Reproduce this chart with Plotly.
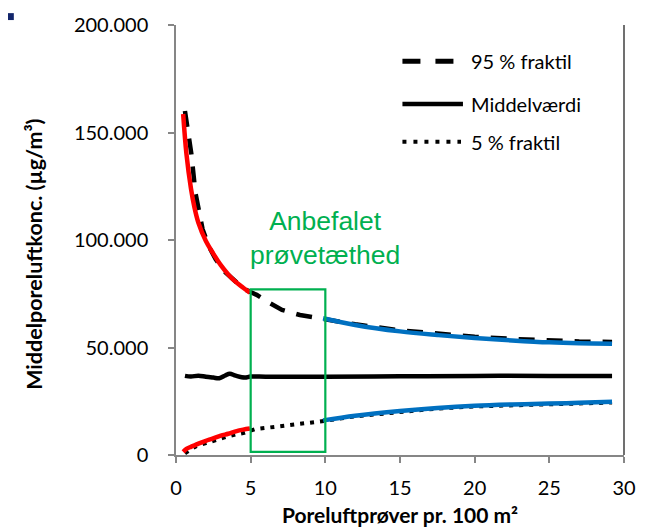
import plotly.graph_objects as go

# --- data -----------------------------------------------------------------
# 95 % fractile (dashed), mean (solid), 5 % fractile (dotted)
x_p95 = [0.6, 0.8, 1.03, 1.3, 1.78, 2.2, 2.66, 3.3, 3.97, 4.5, 4.95, 5.4, 6.13, 7.1, 8.3, 9.5,
         10.0, 12.0, 15.0, 17.5, 20.0, 22.5, 25.0, 27.0, 29.2]
y_p95 = [160000, 150000, 140000, 122000, 105000, 97000, 91000, 85000, 80500, 77500, 75900, 74500,
         71300, 67500, 65100, 63600, 63300, 60800, 58000, 56400, 55000, 54000, 53200, 52800, 52600]

x_mean = [0.6, 1.0, 1.5, 2.0, 2.5, 2.9, 3.3, 3.6, 4.0, 4.6, 5.0, 6.0, 8.0, 10.0, 15.0, 20.0, 25.0, 29.2]
y_mean = [36800, 36500, 36900, 36400, 36000, 35700, 37000, 37800, 36900, 36000, 36500, 36400,
          36400, 36400, 36600, 36800, 36800, 36800]

x_p05 = [0.6, 1.0, 1.35, 2.0, 2.55, 3.2, 4.0, 4.5, 5.3, 5.9, 6.47, 7.5, 8.54, 9.7,
         10.0, 12.0, 15.0, 17.5, 20.0, 22.5, 25.0, 27.0, 29.2]
y_p05 = [800, 2800, 4100, 5500, 6900, 8100, 9600, 10200, 12000, 12500, 13000, 13800, 14600, 15800,
         15900, 18000, 20200, 21600, 22600, 23200, 23600, 24000, 24400]

# fitted curves: red below 5 samples, blue above 10 samples
x_fit_lo = [0.48, 0.7, 1.0, 1.24, 1.5, 2.0, 2.44, 3.0, 3.5, 4.0, 4.5, 4.95]
y_fit_up_lo = [158600, 140000, 124000, 115000, 108000, 99500, 94300, 88300, 84000, 80500, 77800, 75500]
y_fit_dn_lo = [1500, 2800, 3800, 4500, 5300, 6600, 7600, 9000, 9900, 11000, 11800, 12300]

x_fit_hi = [9.85, 12.0, 15.0, 17.5, 20.0, 22.5, 25.0, 27.0, 29.2]
y_fit_up_hi = [63600, 60500, 57500, 55800, 54400, 53300, 52400, 52000, 51800]
y_fit_dn_hi = [16100, 18300, 20500, 21900, 22900, 23500, 23900, 24300, 24800]

x_tick_vals = [0, 5, 10, 15, 20, 25, 30]
x_tick_text = ["0", "5", "10", "15", "20", "25", "30"]
y_tick_vals = [0, 50000, 100000, 150000, 200000]
y_tick_text = ["0", "50.000", "100.000", "150.000", "200.000"]

legend_names = ["95 % fraktil", "Middelværdi", "5 % fraktil"]

# recommended sampling-density window
box_x = [5, 10]
box_y = [1500, 77000]
box_label = "Anbefalet<br>prøvetæthed"

# --- styling ----------------------------------------------------------------
BLACK = "#000000"
RED = "#FF0000"
BLUE = "#0070C0"
GREEN = "#00B050"
AXIS_GREY = "#868686"
FONT = "Lato"

fig = go.Figure()

fig.add_trace(go.Scatter(x=x_p95, y=y_p95, mode="lines", name=legend_names[0],
                         line=dict(color=BLACK, width=4.5, dash="16px,12px"), showlegend=False))
fig.add_trace(go.Scatter(x=x_mean, y=y_mean, mode="lines", name=legend_names[1],
                         line=dict(color=BLACK, width=4.5, shape="spline"), showlegend=False))
fig.add_trace(go.Scatter(x=x_p05, y=y_p05, mode="lines", name=legend_names[2],
                         line=dict(color=BLACK, width=4, dash="4px,6px"), showlegend=False))

for xs, ys, col in [(x_fit_lo, y_fit_up_lo, RED), (x_fit_lo, y_fit_dn_lo, RED),
                    (x_fit_hi, y_fit_up_hi, BLUE), (x_fit_hi, y_fit_dn_hi, BLUE)]:
    fig.add_trace(go.Scatter(x=xs, y=ys, mode="lines", line=dict(color=col, width=4.5, shape="spline"),
                             showlegend=False, hoverinfo="skip"))

shapes = [
    # green window
    dict(type="rect", xref="x", yref="y", x0=box_x[0], x1=box_x[1], y0=box_y[0], y1=box_y[1],
         line=dict(color=GREEN, width=2.2), fillcolor="rgba(0,0,0,0)"),
    # right frame line
    dict(type="line", xref="paper", yref="paper", x0=1, x1=1, y0=0, y1=1,
         line=dict(color="#404040", width=1.5)),
    # small marker square in the corner
    dict(type="rect", xref="paper", yref="paper", x0=-0.375, x1=-0.362, y0=1.0115, y1=1.0276,
         line=dict(width=0), fillcolor="#12256B"),
]

# hand-drawn legend (paper coordinates)
def px_x(p):
    return (p - 176) / 459.0

def px_y(p):
    return (455 - p) / 435.0

leg_rows = [56.7, 100.0, 138.0]
leg_styles = [dict(color=BLACK, width=5, dash="18px,15px"),
              dict(color=BLACK, width=4.5),
              dict(color=BLACK, width=4, dash="4px,7px")]
leg_ends = [462, 470, 468]
annotations = []
for row, sty, end, name in zip(leg_rows, leg_styles, leg_ends, legend_names):
    shapes.append(dict(type="line", xref="paper", yref="paper", x0=px_x(408), x1=px_x(end),
                       y0=px_y(row), y1=px_y(row), line=sty))
    annotations.append(dict(xref="paper", yref="paper", x=px_x(476), y=px_y(row), text=name,
                            showarrow=False, xanchor="left", yanchor="middle",
                            font=dict(family=FONT, size=20, color=BLACK)))

annotations.append(dict(xref="x", yref="y", x=10, y=101000, text=box_label, showarrow=False,
                        xanchor="center", yanchor="middle",
                        font=dict(family="Liberation Sans", size=26.5, color=GREEN)))

# axis titles
annotations.append(dict(xref="paper", yref="paper", x=0.5, y=px_y(515),
                        text="<b>Poreluftprøver pr. 100 m²</b>", showarrow=False,
                        xanchor="center", yanchor="middle",
                        font=dict(family=FONT, size=21, color=BLACK)))
annotations.append(dict(xref="paper", yref="paper", x=px_x(31), y=px_y(252),
                        text="<b>Middelporeluftkonc. (µg/m³)</b>", showarrow=False, textangle=-90,
                        xanchor="center", yanchor="middle",
                        font=dict(family=FONT, size=21.5, color=BLACK)))

fig.update_layout(
    width=648, height=531,
    margin=dict(l=176, r=13, t=20, b=76),
    paper_bgcolor="white", plot_bgcolor="white",
    font=dict(family=FONT, size=20, color=BLACK),
    shapes=shapes, annotations=annotations,
    showlegend=False,
)
fig.update_xaxes(range=[0, 30], tickvals=x_tick_vals, ticktext=x_tick_text,
                 showgrid=False, zeroline=False, showline=True, linecolor=AXIS_GREY, linewidth=1.5,
                 ticks="outside", ticklen=6, tickcolor=AXIS_GREY, tickwidth=1.5,
                 ticklabelstandoff=8, tickfont=dict(family=FONT, size=20, color=BLACK))
fig.update_yaxes(range=[0, 200000], tickvals=y_tick_vals, ticktext=y_tick_text,
                 showgrid=False, zeroline=False, showline=True, linecolor=AXIS_GREY, linewidth=1.5,
                 ticks="outside", ticklen=6, tickcolor=AXIS_GREY, tickwidth=1.5,
                 ticklabelstandoff=16, tickfont=dict(family=FONT, size=20, color=BLACK))

fig.write_html("out.html")
